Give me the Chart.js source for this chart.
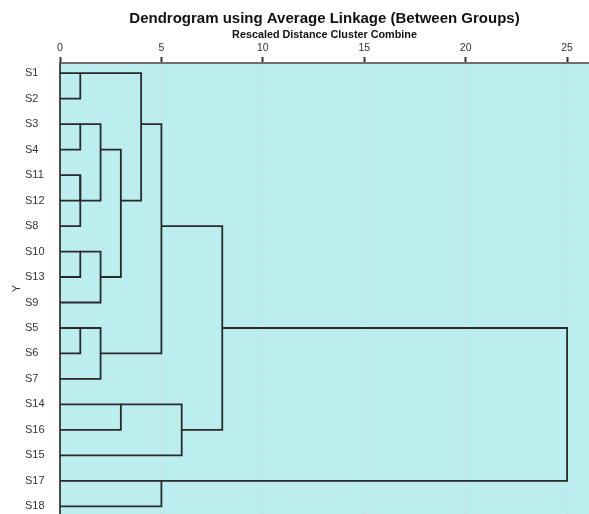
<!DOCTYPE html>
<html>
<head>
<meta charset="utf-8">
<script src="https://cdn.jsdelivr.net/npm/chart.js@4.4.1/dist/chart.umd.min.js"></script>
<style>
  html, body { margin: 0; padding: 0; background: #ffffff; }
  #wrap { width: 589px; height: 514px; }
</style>
</head>
<body>
<div id="wrap"><canvas id="dendro" width="589" height="514"></canvas></div>
<script>
// Leaves in display order (top to bottom)
const leafLabels = ['S1', 'S2', 'S3', 'S4', 'S11', 'S12', 'S8', 'S10', 'S13', 'S9',
                    'S5', 'S6', 'S7', 'S14', 'S16', 'S15', 'S17', 'S18'];

// Agglomeration steps: cluster Ck joins mergeLeft[k] and mergeRight[k]
const mergeLeft  = ['S1', 'S3', 'S11', 'C2', 'S10', 'S5', 'C1', 'C4', 'C5', 'S14',
                    'C6', 'C0', 'C11', 'S17', 'C9', 'C12', 'C15'];
const mergeRight = ['S2', 'S4', 'S12', 'S8', 'S13', 'S6', 'C3', 'S9', 'S7', 'S16',
                    'C7', 'C10', 'C8', 'S18', 'S15', 'C14', 'C13'];
// Rescaled distance at which each step combines
const mergeDistance = [1, 1, 1, 1, 1, 1, 2, 2, 2, 3, 3, 4, 5, 5, 6, 8, 25];

// Rescaled distance axis ticks
const distanceTicks = [0, 5, 10, 15, 20, 25];

// Row and height of each node; a cluster sits on the row between its two members
const nodeRow = {};
const nodeHeight = {};
leafLabels.forEach((name, i) => { nodeRow[name] = i; nodeHeight[name] = 0; });

const linkSets = mergeDistance.map((d, k) => {
  const a = mergeLeft[k], b = mergeRight[k];
  const ra = nodeRow[a], rb = nodeRow[b];
  const id = 'C' + k;
  nodeRow[id] = Math.floor((ra + rb) / 2);
  nodeHeight[id] = d;
  return {
    data: [
      { x: nodeHeight[a], y: ra },
      { x: d, y: ra },
      { x: d, y: rb },
      { x: nodeHeight[b], y: rb }
    ],
    showLine: true,
    borderColor: '#2a2a2a',
    borderWidth: 1.8,
    borderJoinStyle: 'miter',
    pointRadius: 0,
    pointHoverRadius: 0,
    tension: 0,
    fill: false
  };
});

const plotBackground = {
  id: 'plotBackground',
  beforeDraw(chart) {
    const { ctx, chartArea: a } = chart;
    ctx.save();
    ctx.fillStyle = '#bcedef';
    ctx.fillRect(a.left, a.top, a.right - a.left, a.bottom - a.top);
    ctx.restore();
  }
};

const fontFamily = "'Liberation Sans', Arial, sans-serif";

new Chart(document.getElementById('dendro'), {
  type: 'scatter',
  data: { datasets: linkSets },
  plugins: [plotBackground],
  options: {
    responsive: false,
    animation: false,
    layout: { padding: { left: 0, right: 0, top: 0, bottom: 0 } },
    plugins: {
      legend: { display: false },
      tooltip: { enabled: false },
      title: {
        display: true,
        fullSize: false,
        text: 'Dendrogram using Average Linkage (Between Groups)',
        color: '#111111',
        font: { family: fontFamily, size: 15, weight: 'bold' },
        padding: { top: 10, bottom: 1 }
      },
      subtitle: {
        display: true,
        fullSize: false,
        text: 'Rescaled Distance Cluster Combine',
        color: '#111111',
        font: { family: fontFamily, size: 10.8, weight: 'bold' },
        padding: { top: 0, bottom: 0 }
      }
    },
    scales: {
      x: {
        type: 'linear',
        position: 'top',
        min: 0,
        max: 26.08,
        afterBuildTicks: (scale) => {
          scale.ticks = distanceTicks.map(v => ({ value: v }));
        },
        afterFit: (scale) => { scale.height = 21; },
        ticks: {
          includeBounds: false,
          padding: 3,
          color: '#333333',
          font: { family: fontFamily, size: 10.5 }
        },
        grid: {
          color: (ctx) => (ctx.tick && ctx.tick.value === 0) ? 'rgba(0,0,0,0)' : '#d6d6d6',
          lineWidth: 1,
          tickLength: 6,
          tickColor: '#333333',
          tickWidth: 2
        },
        border: { display: true, color: '#6e6e6e', width: 2, dash: [4, 4] }
      },
      y: {
        type: 'linear',
        position: 'left',
        reverse: true,
        min: -0.4,
        max: 17.3,
        weight: 0,
        afterBuildTicks: (scale) => {
          scale.ticks = leafLabels.map((_, i) => ({ value: i }));
        },
        afterFit: (scale) => {
          scale.width = 35;
          scale.paddingTop = 0;
          scale.paddingBottom = 0;
        },
        ticks: {
          crossAlign: 'far',
          padding: 0,
          color: '#333333',
          font: { family: fontFamily, size: 11 },
          callback: (v) => leafLabels[v]
        },
        grid: { display: false },
        border: { display: true, color: '#4a4a4a', width: 2 }
      },
      yName: {
        type: 'linear',
        position: 'left',
        weight: 1,
        display: true,
        afterFit: (scale) => {
          scale.width = 25;
          scale.paddingTop = 0;
          scale.paddingBottom = 0;
        },
        ticks: { display: false },
        grid: { display: false },
        border: { display: false },
        title: {
          display: true,
          text: 'Y',
          color: '#333333',
          font: { family: fontFamily, size: 11 },
          padding: { top: 10, bottom: 0 }
        }
      }
    }
  }
});
</script>
</body>
</html>
